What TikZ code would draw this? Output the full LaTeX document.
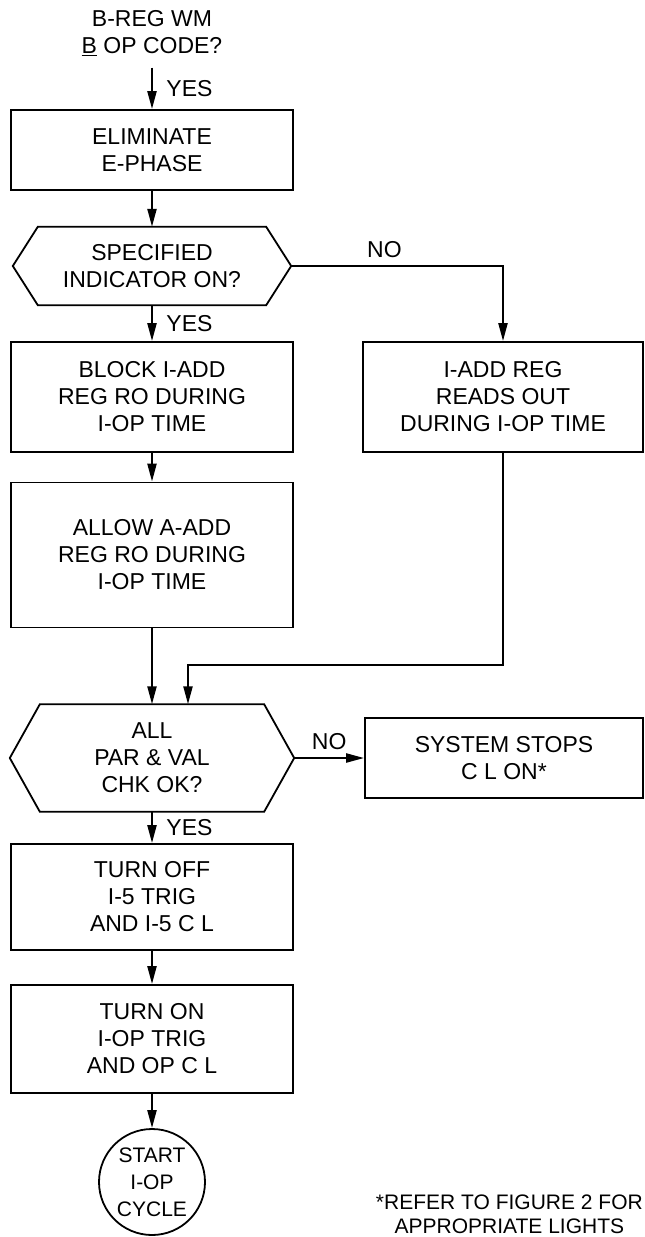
\documentclass[tikz,border=0pt]{standalone}
\usepackage{fontspec}
\setmainfont{Liberation Sans}
\usetikzlibrary{positioning}
\usetikzlibrary{shapes.geometric, arrows.meta}

% outline of a decision node, #2 is the slant of its ends
\newcommand{\hexframe}[2]{\draw[line width=1.8pt] (#1.west) -- ([xshift=#2]#1.north west) -- ([xshift=-#2]#1.north east) -- (#1.east) -- ([xshift=-#2]#1.south east) -- ([xshift=#2]#1.south west) -- cycle;}

\begin{document}
\begin{tikzpicture}
    [
        x=1pt, y=-1pt,
        font=\fontsize{23}{27}\selectfont,
        stepbox/.style={draw, line width=1.8pt, align=center, rectangle, inner sep=0pt},
        askbox/.style={align=center, rectangle, inner sep=0pt},
        endbox/.style={draw, circle, line width=1.8pt, align=center, minimum size=106pt, inner sep=0pt, font=\fontsize{21}{27}\selectfont},
        flow/.style={line width=2.2pt, -{Triangle[length=18pt, width=9pt]}}
    ]
        \useasboundingbox (0, 0) rectangle (645, 1237);

        \node[align=center, inner sep=0pt] (title) at (152, 33) {B-REG WM\\\underline{B} OP CODE?};

        \node[stepbox, minimum width=282pt, minimum height=80pt] (elim) at (152, 150) {ELIMINATE\\E-PHASE};
        \node[askbox, minimum width=278pt, minimum height=78pt] (spec) at (152, 266) {SPECIFIED\\INDICATOR ON?};
        \hexframe{spec}{25pt}
        \node[stepbox, minimum width=282pt, minimum height=110pt] (block) at (152, 397) {BLOCK I-ADD\\REG RO DURING\\I-OP TIME};
        \node[stepbox, minimum width=280pt, minimum height=110pt] (iadd) at (503, 397) {I-ADD REG\\READS OUT\\DURING I-OP TIME};
        \node[stepbox, minimum width=282pt, minimum height=145pt] (allow) at (152, 555) {ALLOW A-ADD\\REG RO DURING\\I-OP TIME};
        \node[askbox, minimum width=284pt, minimum height=107pt] (chk) at (152, 758) {ALL\\PAR \& VAL\\CHK OK?};
        \hexframe{chk}{30pt}
        \node[stepbox, minimum width=278pt, minimum height=80pt] (stop) at (504, 758) {SYSTEM STOPS\\C L ON*};
        \node[stepbox, minimum width=282pt, minimum height=106pt] (off) at (152, 897) {TURN OFF\\I-5 TRIG\\AND I-5 C L};
        \node[stepbox, minimum width=282pt, minimum height=108pt] (on) at (152, 1039) {TURN ON\\I-OP TRIG\\AND OP C L};
        \node[endbox] (start) at (152, 1182) {START\\I-OP\\CYCLE};

        \node[align=center, inner sep=0pt, anchor=east, font=\fontsize{21}{24}\selectfont] (note) at (643, 1214) {*REFER TO FIGURE 2 FOR\\APPROPRIATE LIGHTS};

        \coordinate (merge) at (188, 665);

        \draw[flow] ([yshift=-12pt]title.south) -- (elim.north) node[pos=0.5, right=10pt]{YES};
        \draw[flow] (elim.south) -- (spec.north);
        \draw[flow] (spec.east) -| (iadd.north) node[pos=0.22, above=4pt]{NO};
        \draw[flow] (spec.south) -- (block.north) node[pos=0.5, right=10pt]{YES};
        \draw[flow] (block.south) -- (allow.north);
        \draw[flow] (allow.south) -- (chk.north);
        \draw[flow] (iadd.south) |- (merge) -- (merge |- chk.north);
        \draw[flow] (chk.east) -- (stop.west) node[pos=0.5, above=4pt]{NO};
        \draw[flow] (chk.south) -- (off.north) node[pos=0.5, right=10pt]{YES};
        \draw[flow] (off.south) -- (on.north);
        \draw[flow] (on.south) -- (start.north);
    \end{tikzpicture}
\end{document}
